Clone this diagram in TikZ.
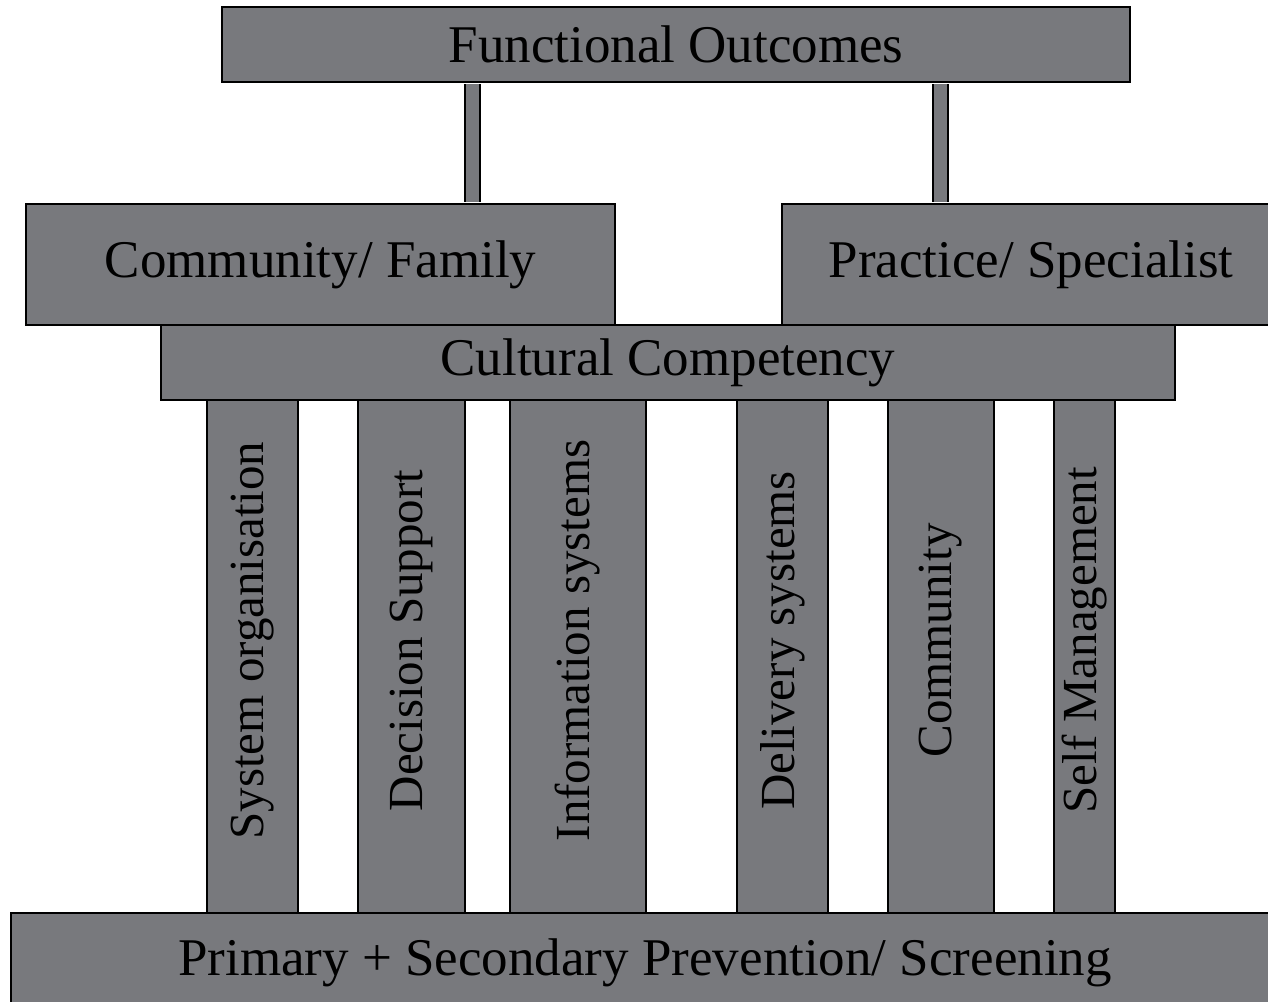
\documentclass[tikz,border=0pt]{standalone}
\usepackage{fontspec}
\setmainfont{Liberation Serif}
\definecolor{slab}{HTML}{78797D}

\begin{document}
\begin{tikzpicture}[x=1pt,y=-1pt,
  box/.style={draw=black,line width=2pt,fill=slab,inner sep=0pt,font=\fontsize{53}{60}\selectfont},
  pillar/.style={box,rotate=90,minimum width=513pt,minimum height=#1,
    font=\fontsize{49}{56}\selectfont,execute at begin node={\hspace*{32pt}}},
  link/.style={line width=2pt,double=slab,double distance=13pt,shorten <=1pt,shorten >=1pt}]
  \clip (0,0) rectangle (1268,1001);

  % top of the house
  \node[box,minimum width=908pt,minimum height=75pt] (outcomes) at (676,44.5) {Functional Outcomes};
  \node[box,minimum width=589pt,minimum height=121pt] (family) at (320.5,264.5) {Community/ Family};
  \node[box,minimum width=498pt,minimum height=121pt] (practice) at (1031,264.5) {Practice/ Specialist};
  \node[box,minimum width=1014pt,minimum height=75pt] (culture) at (668,362.5) {Cultural Competency};

  \coordinate (lx) at (472,0);
  \coordinate (rx) at (940,0);
  \draw[link] (outcomes.south -| lx) -- (family.north -| lx);
  \draw[link] (outcomes.south -| rx) -- (practice.north -| rx);

  % the pillars
  \foreach \x/\w/\name/\txt in {252.5/91/sysorg/System organisation,
      411.5/107/decision/Decision Support,
      578/136/info/Information systems,
      782.5/91/delivery/Delivery systems,
      941/106/community/Community,
      1084.5/61/selfman/Self Management}
    \node[pillar=\w pt] (\name) at (\x,656.5) {\txt};

  % base
  \node[box,minimum width=1268pt,minimum height=100pt] (base) at (645,963) {Primary + Secondary Prevention/ Screening};
\end{tikzpicture}
\end{document}
